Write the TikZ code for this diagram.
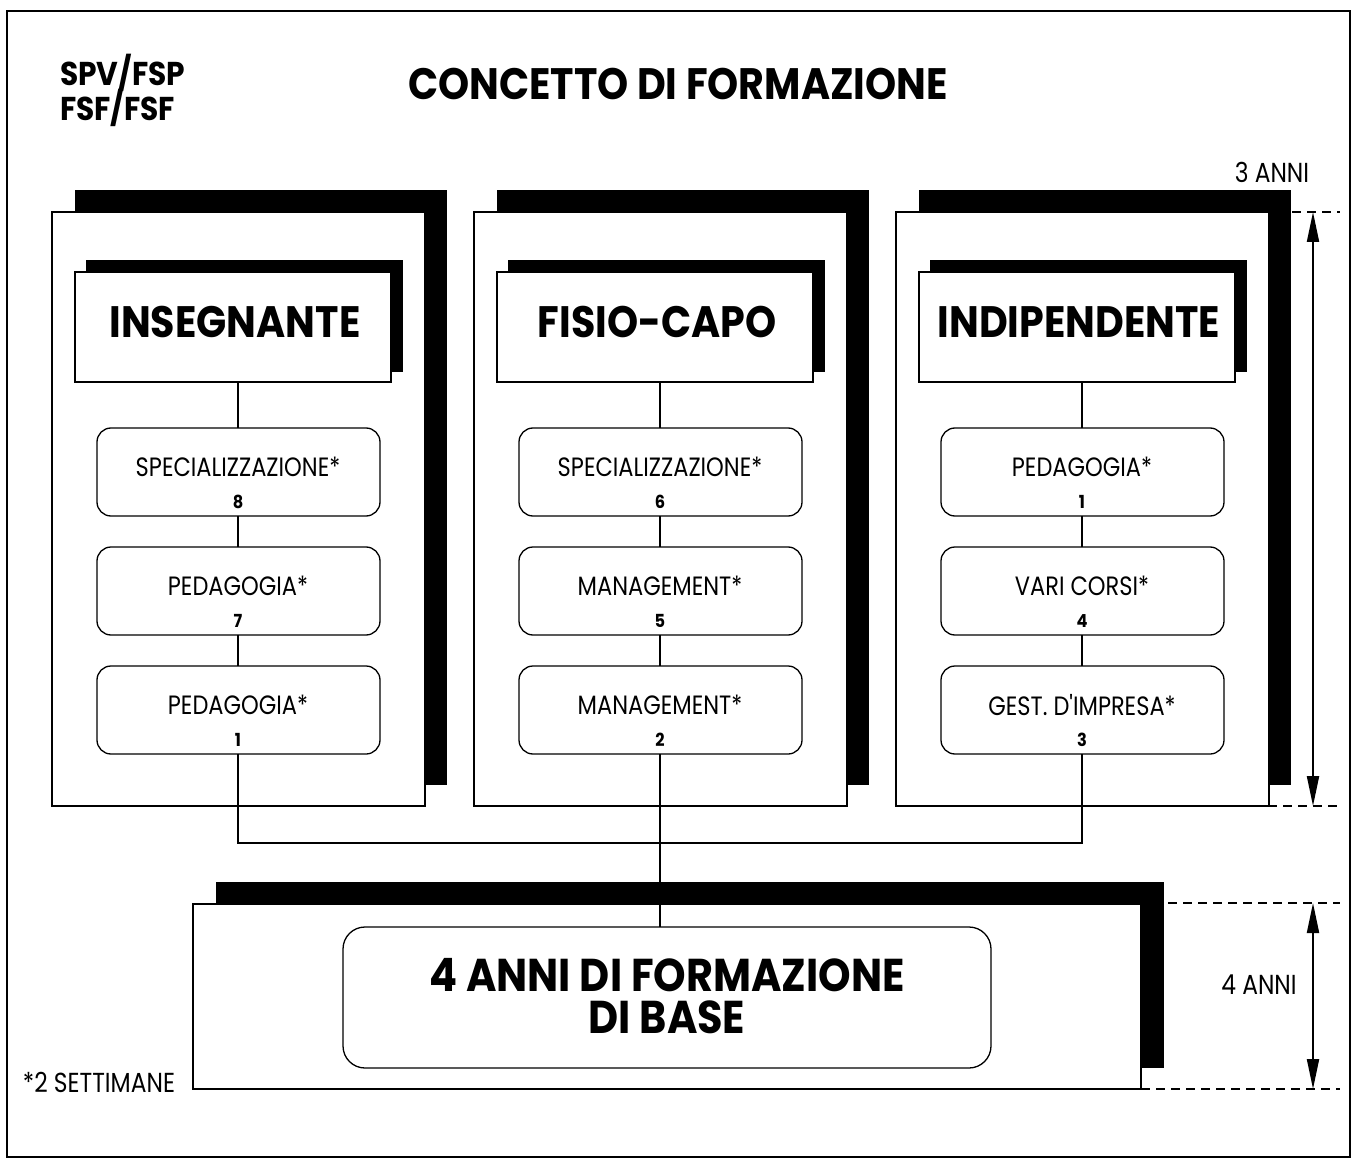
\documentclass[tikz,border=0pt]{standalone}
\usepackage{fontspec}
\setmainfont{Poppins}
\newfontfamily\heavyfont{Poppins}[UprightFont=* Bold, FakeStretch=0.9]
\newfontfamily\bookfont{Poppins}[FakeStretch=0.85]
\usetikzlibrary{arrows.meta}
\tikzset{
  shadowbox/.style={fill=black,draw=none},
  panelbox/.style={fill=white,draw=black,line width=1.3pt},
  course/.style={draw=black,fill=white,line width=1.3pt,rounded corners=14pt},
  coursetext/.style={font=\bookfont\fontsize{26.5}{28}\selectfont,anchor=center,inner sep=0pt},
  coursenum/.style={font=\heavyfont\fontsize{18}{20}\selectfont,anchor=center,inner sep=0pt},
  headtext/.style={font=\heavyfont\fontsize{44}{48}\selectfont,anchor=center,inner sep=0pt},
  conn/.style={line width=1.3pt},
  dimline/.style={line width=1.3pt,dash pattern=on 9pt off 6pt},
  dimarrow/.style={line width=2pt,{Triangle[length=30pt,width=12pt]}-{Triangle[length=30pt,width=12pt]}},
  plaintext/.style={font=\bookfont\fontsize{27.5}{30}\selectfont,anchor=center,inner sep=0pt},
  orgtext/.style={font=\heavyfont\fontsize{33}{36}\selectfont,anchor=west,inner sep=0pt},
}
\begin{document}
\begin{tikzpicture}[x=1pt,y=-1pt]
\useasboundingbox (0,0) rectangle (1353,1169);
\draw[line width=2pt] (7,11) rectangle (1350,1157);
\node[orgtext] (org1) at (60,73) {SPV/FSP};
\node[orgtext] (org2) at (60,108) {FSF/FSF};
\node[font=\heavyfont\fontsize{44}{48}\selectfont,anchor=center,inner sep=0pt] (title) at (678,84) {CONCETTO DI FORMAZIONE};
% columns
\foreach \i/\dx/\head/\la/\na/\lb/\nb/\lc/\nc in {
  1/0/INSEGNANTE/SPECIALIZZAZIONE*/8/PEDAGOGIA*/7/PEDAGOGIA*/1,
  2/422/FISIO-CAPO/SPECIALIZZAZIONE*/6/MANAGEMENT*/5/MANAGEMENT*/2,
  3/844/INDIPENDENTE/PEDAGOGIA*/1/VARI CORSI*/4/GEST. D'IMPRESA*/3}{
  \fill[shadowbox] (75+\dx,190) rectangle (447+\dx,785);
  \draw[panelbox] (52+\dx,212) rectangle (425+\dx,806);
  \fill[shadowbox] (86+\dx,260) rectangle (403+\dx,372);
  \draw[panelbox] (75+\dx,272) rectangle (391+\dx,382);
  \node[headtext] (h\i) at (235+\dx,322) {\head};
  \coordinate (hb\i) at (238+\dx,382);
  \draw[course] (97+\dx,428) rectangle (380+\dx,516);
  \draw[course] (97+\dx,547) rectangle (380+\dx,635);
  \draw[course] (97+\dx,666) rectangle (380+\dx,754);
  \coordinate (at\i) at (238+\dx,428);
  \coordinate (ab\i) at (238+\dx,516);
  \coordinate (bt\i) at (238+\dx,547);
  \coordinate (bb\i) at (238+\dx,635);
  \coordinate (ct\i) at (238+\dx,666);
  \coordinate (cb\i) at (238+\dx,754);
  \node[coursetext] (a\i) at (238+\dx,467) {\la};
  \node[coursenum] (an\i) at (238+\dx,502) {\na};
  \node[coursetext] (b\i) at (238+\dx,586) {\lb};
  \node[coursenum] (bn\i) at (238+\dx,621) {\nb};
  \node[coursetext] (c\i) at (238+\dx,705) {\lc};
  \node[coursenum] (cn\i) at (238+\dx,740) {\nc};
  \draw[conn] (hb\i) -- (at\i);
  \draw[conn] (ab\i) -- (bt\i);
  \draw[conn] (bb\i) -- (ct\i);
}
% bottom block
\fill[shadowbox] (216,882) rectangle (1164,1068);
\draw[panelbox] (193,904) rectangle (1141,1089);
\draw[course,rounded corners=22pt] (343,927) rectangle (991,1068);
\node[font=\heavyfont\fontsize{46}{42}\selectfont,anchor=center,inner sep=0pt,align=center] (base) at (667,996) {4 ANNI DI FORMAZIONE\\DI BASE};
\coordinate (basetop) at (660,927);
\coordinate (j1) at (238,843);
\coordinate (j3) at (1082,843);
\draw[conn] (cb1) -- (j1) -- (j3) -- (cb3);
\draw[conn] (cb2) -- (basetop);
% dimensions
\coordinate (d1t) at (1313,212);
\coordinate (d1b) at (1313,806);
\coordinate (d2t) at (1313,903);
\coordinate (d2b) at (1313,1089);
\draw[dimline] (1292,212) -- (1340,212);
\draw[dimline] (1268,806) -- (1340,806);
\draw[dimline] (1168,903) -- (1340,903);
\draw[dimline] (1141,1089) -- (1340,1089);
\draw[dimarrow] (d1t) -- (d1b);
\draw[dimarrow] (d2t) -- (d2b);
\node[plaintext] (y3) at (1272,172) {3 ANNI};
\node[plaintext] (y4) at (1259,985) {4 ANNI};
\node[plaintext] (note) at (99,1082) {*2 SETTIMANE};
\end{tikzpicture}
\end{document}
